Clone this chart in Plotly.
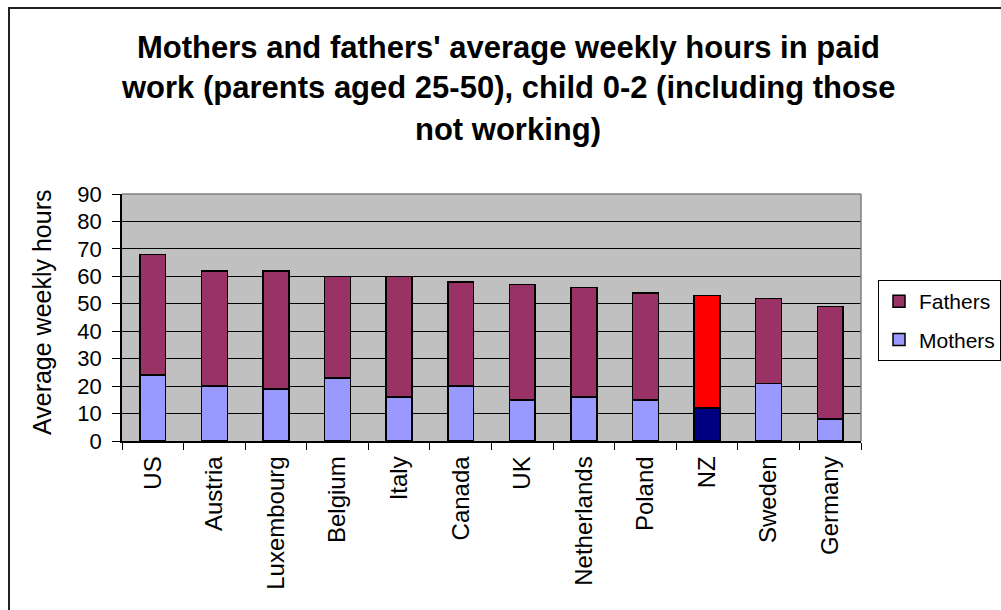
import plotly.graph_objects as go

# Average weekly hours in paid work, parents aged 25-50 with a child aged 0-2
countries = ["US", "Austria", "Luxembourg", "Belgium", "Italy", "Canada",
             "UK", "Netherlands", "Poland", "NZ", "Sweden", "Germany"]
mothers = [24, 20, 19, 23, 16, 20, 15, 16, 15, 12, 21, 8]
fathers = [44, 42, 43, 37, 44, 38, 42, 40, 39, 41, 31, 41]

y_ticks = [0, 10, 20, 30, 40, 50, 60, 70, 80, 90]

# colours; NZ is highlighted
mother_col = "#9999FF"
father_col = "#993366"
highlight = "NZ"
mother_colors = ["#000080" if c == highlight else mother_col for c in countries]
father_colors = ["#FF0000" if c == highlight else father_col for c in countries]

FONT = "Liberation Sans, Arial, sans-serif"
W, H = 1001, 610
L, R, T, B = 122, 140, 194, 169
PW, PH = W - L - R, H - T - B


def px_x(px):
    return (px - L) / PW


def px_y(py):
    return (H - B - py) / PH


fig = go.Figure()
fig.add_trace(go.Bar(
    x=countries, y=mothers, name="Mothers", legendgroup="m", legendrank=2,
    marker=dict(color=mother_colors, line=dict(color="black", width=1.5)),
))
fig.add_trace(go.Bar(
    x=countries, y=fathers, name="Fathers", legendgroup="f", legendrank=1,
    marker=dict(color=father_colors, line=dict(color="black", width=1.5)),
))

shapes = [
    # outer chart frame
    dict(type="rect", xref="paper", yref="paper",
         x0=px_x(9), x1=px_x(1020), y0=px_y(630), y1=px_y(8),
         line=dict(color="#222222", width=2), layer="above"),
    # plot area border (top and right)
    dict(type="line", xref="paper", yref="paper", x0=0, x1=1, y0=1, y1=1,
         line=dict(color="#808080", width=1.5), layer="above"),
    dict(type="line", xref="paper", yref="paper", x0=1, x1=1, y0=0, y1=1,
         line=dict(color="#808080", width=1.5), layer="above"),
]

title_lines = [
    "Mothers and fathers' average weekly hours in paid",
    "work (parents aged 25-50), child 0-2 (including those",
    "not working)",
]
annotations = []
for i, line in enumerate(title_lines):
    annotations.append(dict(
        text=line, xref="paper", yref="paper", x=px_x(508), y=px_y(47 + 41 * i),
        xanchor="center", yanchor="middle", showarrow=False,
        font=dict(family=FONT, size=31, color="black", weight="bold"),
    ))
annotations.append(dict(
    text="Average weekly hours", xref="paper", yref="paper",
    x=px_x(42), y=px_y(437), xanchor="center", yanchor="bottom",
    textangle=-90, showarrow=False,
    font=dict(family=FONT, size=25, color="black"),
))

fig.update_layout(
    width=W, height=H,
    margin=dict(l=L, r=R, t=T, b=B, autoexpand=False),
    paper_bgcolor="white", plot_bgcolor="#C0C0C0",
    barmode="stack", bargap=0.58,
    font=dict(family=FONT, color="black"),
    showlegend=True,
    legend=dict(
        x=px_x(878), y=px_y(280), xanchor="left", yanchor="top",
        traceorder="grouped", tracegroupgap=8,
        bordercolor="black", borderwidth=1, bgcolor="white",
        font=dict(family=FONT, size=21, color="black"),
        itemwidth=30,
    ),
    xaxis=dict(
        type="category", tickangle=-90, tickson="boundaries",
        ticks="outside", ticklen=7, tickcolor="black", tickwidth=1,
        ticklabelstandoff=4,
        showline=True, linecolor="black", linewidth=1.5,
        showgrid=False, tickfont=dict(family=FONT, size=24, color="black"),
    ),
    yaxis=dict(
        range=[0, 90], tickvals=y_ticks, ticks="outside", ticklen=8,
        ticklabelstandoff=6,
        tickcolor="black", showline=True, linecolor="black", linewidth=1.5,
        showgrid=True, gridcolor="black", gridwidth=1, zeroline=False,
        tickfont=dict(family=FONT, size=22, color="black"),
    ),
    shapes=shapes, annotations=annotations,
)

fig.write_html("out.html")
